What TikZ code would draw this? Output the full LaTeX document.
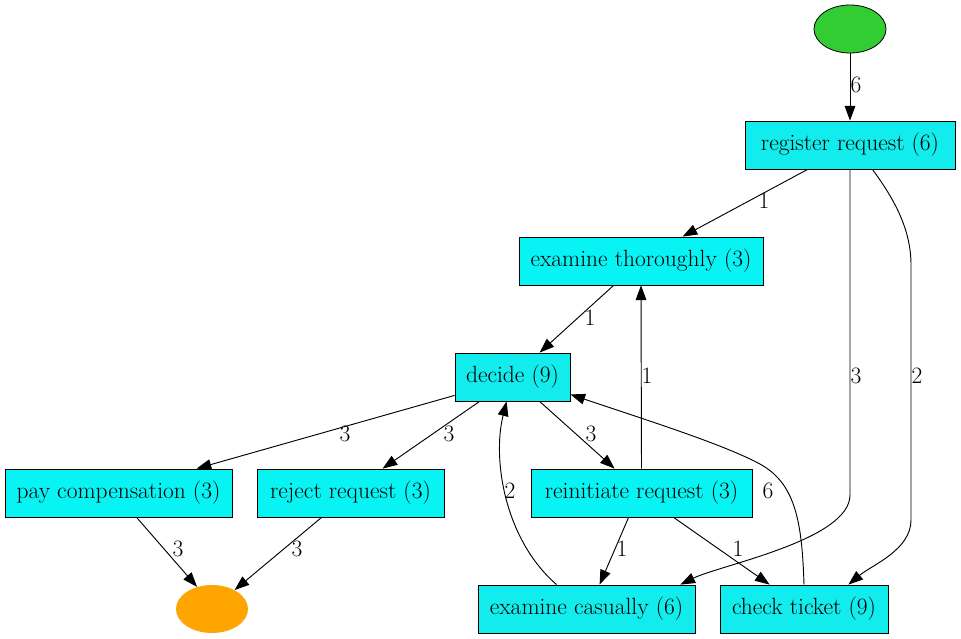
\documentclass[tikz,border=0pt]{standalone}
\usetikzlibrary{arrows.meta,calc,shapes.geometric}
\definecolor{cyanA}{RGB}{18,236,236}
\definecolor{cyanB}{RGB}{8,244,244}
\definecolor{startgreen}{RGB}{50,205,50}
\definecolor{endorange}{RGB}{255,165,0}
\tikzset{
  box/.style={draw=black, line width=0.6pt, rectangle, minimum height=36pt, inner sep=0pt, font=\fontsize{17.6}{21}\selectfont},
  edge/.style={draw=black, line width=0.7pt, -{Triangle[length=11pt,width=8pt]}},
  lbl/.style={inner sep=0pt, font=\fontsize{17.6}{21}\selectfont},
}
\begin{document}
\begin{tikzpicture}[x=0.75pt,y=-0.75pt]
\useasboundingbox (0,0) rectangle (961,639);
% nodes
\node[ellipse, draw=black, line width=0.6pt, fill=startgreen, minimum width=54pt, minimum height=36pt, inner sep=0pt] (start) at (850,29) {};
\node[box, fill=cyanA, minimum width=157.5pt] (reg) at (850,145) {register request (6)};
\node[box, fill=cyanB, minimum width=183pt] (exth) at (641,261) {examine thoroughly (3)};
\node[box, fill=cyanA, minimum width=86.25pt] (dec) at (512.5,377) {decide (9)};
\node[box, fill=cyanB, minimum width=170.25pt] (pay) at (118.5,493) {pay compensation (3)};
\node[box, fill=cyanB, minimum width=140.25pt] (rej) at (350.5,493) {reject request (3)};
\node[box, fill=cyanB, minimum width=165.75pt] (reinit) at (641.5,493) {reinitiate request (3)};
\node[box, fill=cyanA, minimum width=162.75pt] (cas) at (586.5,609) {examine casually (6)};
\node[box, fill=cyanA, minimum width=126pt] (ct) at (804,609) {check ticket (9)};
\node[ellipse, fill=endorange, minimum width=54pt, minimum height=36pt, inner sep=0pt] (end) at (212,609) {};
% edges
\draw[edge] (start.south) -- (reg.north) node[lbl] at (856,85) {6};
\draw[edge] ($(reg.south west)+(63,0)$) -- ($(exth.north west)+(164,0)$) node[lbl] at (764,201) {1};
\draw[edge] (reg.south) -- (850,495) .. controls (850,540) and (720,565) .. ($(cas.north east)+(-15,0)$) node[lbl] at (856,376) {3};
\draw[edge] ($(reg.south east)+(-83,0)$) .. controls (895,200) and (911,230) .. (911,265) -- (911,520) .. controls (911,550) and (872,565) .. ($(ct.north east)+(-40,0)$) node[lbl] at (917,376) {2};
\draw[edge] ($(exth.south west)+(95,0)$) -- ($(dec.north west)+(85,0)$) node[lbl] at (590,318) {1};
\draw[edge] ($(dec.south west)+(0,-6)$) -- ($(pay.north west)+(192,0)$) node[lbl] at (345,434) {3};
\draw[edge] ($(dec.south west)+(25,0)$) -- ($(rej.north west)+(126,0)$) node[lbl] at (449,434) {3};
\draw[edge] ($(dec.south west)+(85,0)$) -- ($(reinit.north west)+(84,0)$) node[lbl] at (591,434) {3};
\draw[edge] (reinit.north) -- (exth.south) node[lbl] at (647,376) {1};
\draw[edge] ($(cas.north west)+(79,0)$) .. controls (505,540) and (492,460) .. ($(dec.south west)+(52,0)$) node[lbl] at (510,491) {2};
\draw[edge] (ct.north) .. controls (802,520) and (795,482) .. (758,463) .. controls (720,443) and (640,418) .. ($(dec.south east)+(0,-7)$) node[lbl] at (768,491) {6};
\draw[edge] ($(reinit.south west)+(98,0)$) -- ($(cas.north west)+(122,0)$) node[lbl] at (622,549) {1};
\draw[edge] ($(reinit.south west)+(143,0)$) -- ($(ct.north west)+(50,0)$) node[lbl] at (738,549) {1};
\draw[edge] ($(pay.south west)+(132,0)$) -- (end.124) node[lbl] at (178,549) {3};
\draw[edge] ($(rej.south west)+(65,0)$) -- (end.40) node[lbl] at (297,549) {3};
\end{tikzpicture}
\end{document}
